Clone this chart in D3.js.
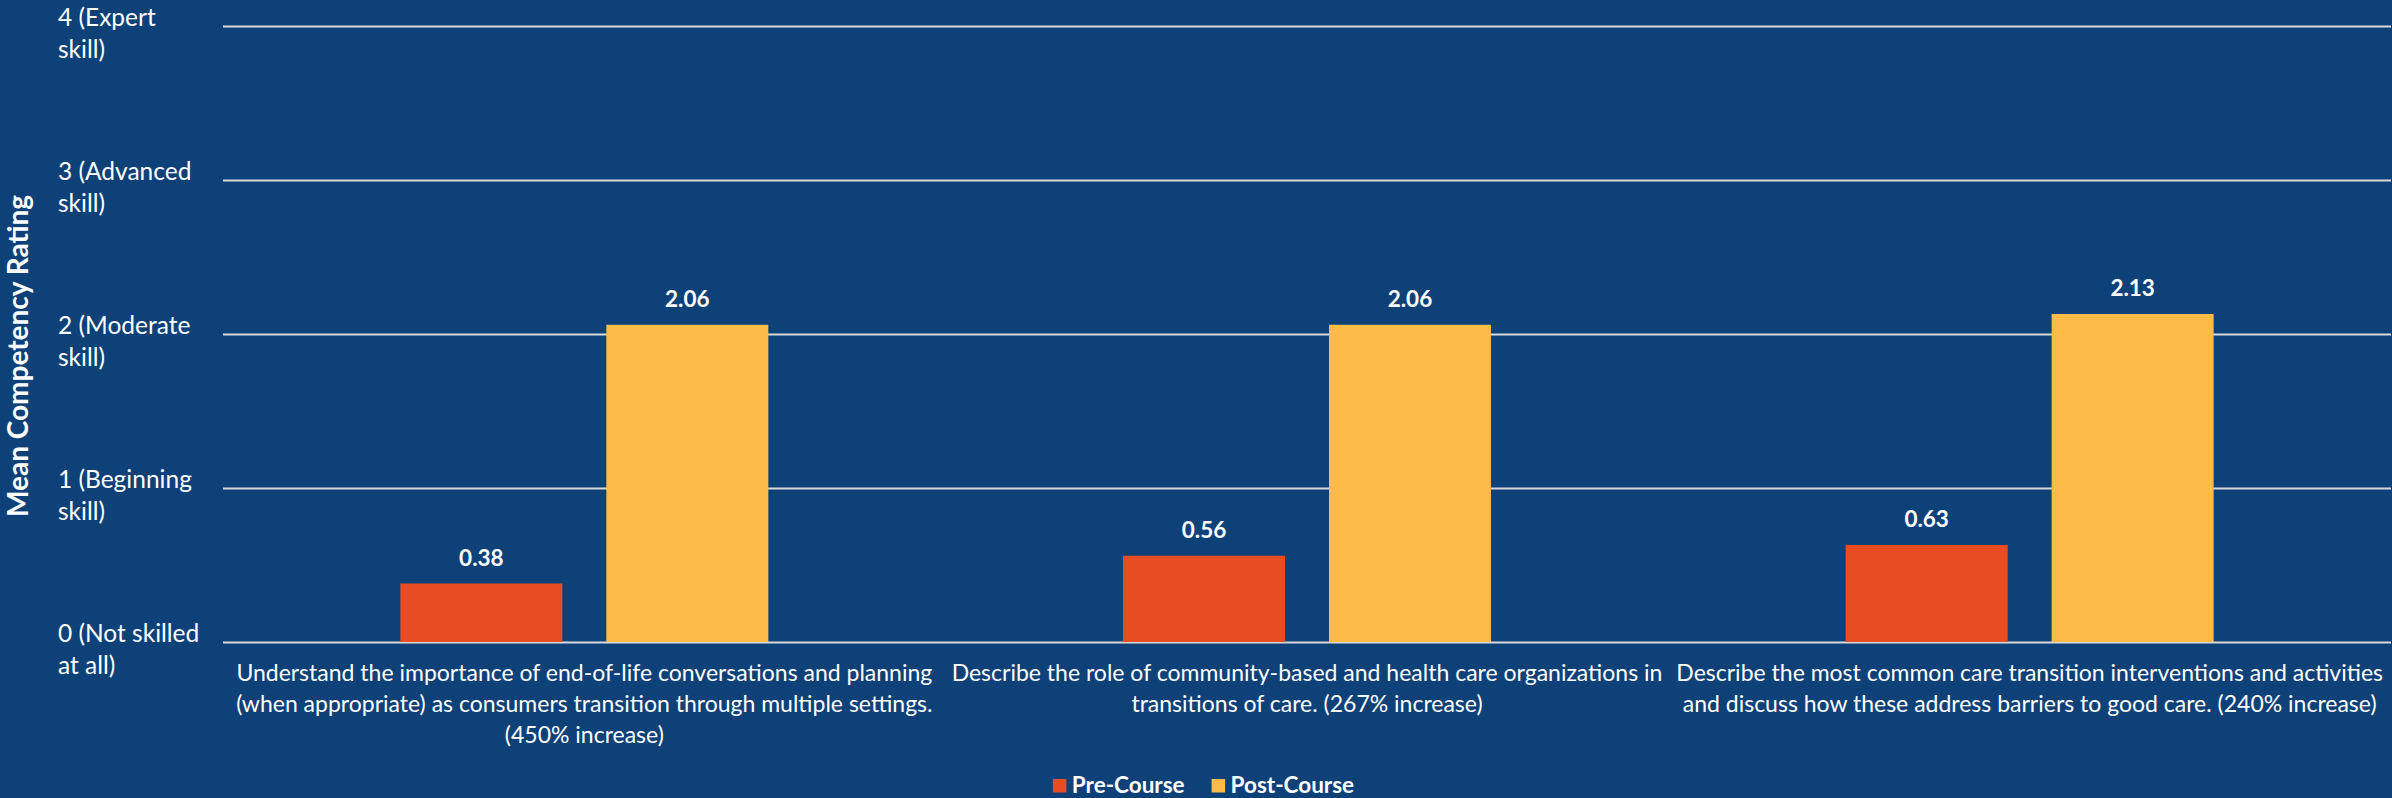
<!DOCTYPE html>
<html>
<head>
<meta charset="utf-8">
<script src="https://cdn.jsdelivr.net/npm/d3@7"></script>
<style>
  html, body { margin: 0; padding: 0; background: #0F4179; }
  svg { display: block; }
</style>
</head>
<body>
<svg id="chart" width="2392" height="798"></svg>
<script>
// ---- data ----
const categories = [
  ["Understand the importance of end-of-life conversations and planning",
   "(when appropriate) as consumers transition through multiple settings.",
   "(450% increase)"],
  ["Describe the role of community-based and health care organizations in",
   "transitions of care. (267% increase)"],
  ["Describe the most common care transition interventions and activities",
   "and discuss how these address barriers to good care. (240% increase)"]
];
const seriesNames = ["Pre-Course", "Post-Course"];
const preCourse = [0.38, 0.56, 0.63];
const postCourse = [2.06, 2.06, 2.13];
const tickValues = [0, 1, 2, 3, 4];
const tickLabels = [
  ["0 (Not skilled", "at all)"],
  ["1 (Beginning", "skill)"],
  ["2 (Moderate", "skill)"],
  ["3 (Advanced", "skill)"],
  ["4 (Expert", "skill)"]
];
const yTitle = "Mean Competency Rating";
const colors = ["#E84D22", "#FFBB47"];

// ---- layout ----
const W = 2392, H = 798;
const plot = { left: 223, right: 2391, top: 26, bottom: 642 };
const FONT = "Lato, 'Open Sans', sans-serif";
const BG = "#0F4179";
const GRID = "#D9D9D9";

const svg = d3.select("#chart");
svg.append("rect").attr("width", W).attr("height", H).attr("fill", BG);

const y = d3.scaleLinear().domain([0, 4]).range([plot.bottom, plot.top]);
const x0 = d3.scaleBand().domain(d3.range(categories.length)).range([plot.left, plot.right]);
const x1 = d3.scaleBand().domain(seriesNames).range([0, x0.bandwidth()])
  .paddingInner(0.2136).paddingOuter(0.861);

// horizontal gridlines
const grid = svg.append("g")
  .attr("transform", `translate(${plot.left},0)`)
  .call(d3.axisLeft(y).tickValues(tickValues)
    .tickSize(-(plot.right - plot.left)).tickFormat(""));
grid.select(".domain").remove();
grid.selectAll(".tick line").attr("stroke", GRID).attr("stroke-width", 2);

// y tick labels (two lines each)
const yl = svg.append("g")
  .attr("font-family", FONT).attr("font-size", 24.5).attr("fill", "#FFFFFF")
  .selectAll("text").data(tickValues).join("text")
  .attr("x", 58).attr("y", d => y(d));
yl.selectAll("tspan").data((d, i) => tickLabels[i]).join("tspan")
  .attr("x", 58).attr("dy", (d, i) => i ? 32 : 0).text(d => d);

// y axis title
svg.append("text")
  .attr("transform", `translate(28,356) rotate(-90)`)
  .attr("text-anchor", "middle")
  .attr("font-family", FONT).attr("font-weight", "bold").attr("font-size", 28)
  .attr("fill", "#FFFFFF")
  .text(yTitle);

// bars
const series = [preCourse, postCourse];
const groups = svg.append("g").selectAll("g").data(categories).join("g")
  .attr("transform", (d, i) => `translate(${x0(i)},0)`);

const cells = (d, i) => seriesNames.map((s, j) => ({ s, j, v: series[j][i] }));

groups.selectAll("rect").data(cells).join("rect")
  .attr("x", d => x1(d.s))
  .attr("y", d => y(d.v))
  .attr("width", x1.bandwidth())
  .attr("height", d => y(0) - y(d.v))
  .attr("fill", d => colors[d.j]);

groups.selectAll("text.val").data(cells).join("text")
  .attr("class", "val")
  .attr("x", d => x1(d.s) + x1.bandwidth() / 2)
  .attr("y", d => y(d.v) - 17.5)
  .attr("text-anchor", "middle")
  .attr("font-family", FONT).attr("font-weight", "bold").attr("font-size", 22.5)
  .attr("fill", "#FFFFFF")
  .text(d => d.v.toFixed(2));

// category labels
const cl = svg.append("g")
  .attr("font-family", FONT).attr("font-size", 23).attr("fill", "#FFFFFF")
  .attr("text-anchor", "middle")
  .selectAll("text").data(categories).join("text")
  .attr("x", (d, i) => x0(i) + x0.bandwidth() / 2)
  .attr("y", plot.bottom + 39);
cl.selectAll("tspan").data(d => d).join("tspan")
  .attr("x", function() { return this.parentNode.getAttribute("x"); })
  .attr("dy", (d, i) => i ? 31 : 0)
  .text(d => d);

// legend, centred under the plot
const legend = svg.append("g")
  .attr("font-family", FONT).attr("font-weight", "bold").attr("font-size", 22.5)
  .attr("fill", "#FFFFFF");
let lx = 0;
seriesNames.forEach((name, j) => {
  legend.append("rect").attr("x", lx).attr("y", -13.5).attr("width", 13.5).attr("height", 13.5)
    .attr("fill", colors[j]);
  const t = legend.append("text").attr("x", lx + 19).attr("y", 0).text(name);
  lx += 19 + t.node().getComputedTextLength() + 27;
});
const lw = lx - 27;
legend.attr("transform", `translate(${1203.5 - lw / 2},792.5)`);
</script>
</body>
</html>
